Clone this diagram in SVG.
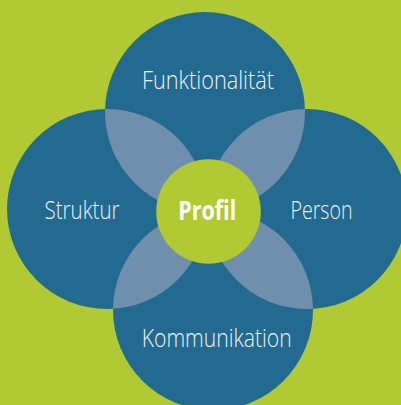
<svg xmlns="http://www.w3.org/2000/svg" width="401" height="405" viewBox="0 0 401 405">
  <style>
    .c { fill: #226a8f; }
    .lens { fill: #6f8fac; }
    .lbl { font-family: "Open Sans", "Liberation Sans", sans-serif; font-size: 26px; font-weight: 300; fill: #eef3f7; text-anchor: middle; }
    .ctr { font-family: "Open Sans", "Liberation Sans", sans-serif; font-size: 26px; font-weight: bold; fill: #ffffff; text-anchor: middle; }
  </style>
  <defs>
    <clipPath id="clipTop"><circle cx="205" cy="112" r="100"/></clipPath>
    <clipPath id="clipBottom"><circle cx="213" cy="310" r="100"/></clipPath>
  </defs>
  <rect width="401" height="405" fill="#b1ca33"/>

  <g id="node-funktionalitaet">
    <circle class="c" cx="205" cy="112" r="100"/>
  </g>
  <g id="node-struktur">
    <circle class="c" cx="107" cy="209" r="100"/>
  </g>
  <g id="node-person">
    <circle class="c" cx="307" cy="209" r="100"/>
  </g>
  <g id="node-kommunikation">
    <circle class="c" cx="213" cy="310" r="100"/>
  </g>

  <g id="overlaps">
    <circle class="lens" cx="107" cy="209" r="100" clip-path="url(#clipTop)"/>
    <circle class="lens" cx="307" cy="209" r="100" clip-path="url(#clipTop)"/>
    <circle class="lens" cx="107" cy="209" r="100" clip-path="url(#clipBottom)"/>
    <circle class="lens" cx="307" cy="209" r="100" clip-path="url(#clipBottom)"/>
  </g>

  <g id="labels">
    <text class="lbl" x="208" y="89" textLength="132" lengthAdjust="spacingAndGlyphs">Funktionalität</text>
    <text class="lbl" x="82" y="219" textLength="75" lengthAdjust="spacingAndGlyphs">Struktur</text>
    <text class="lbl" x="321.5" y="219" textLength="62" lengthAdjust="spacingAndGlyphs">Person</text>
    <text class="lbl" x="216.7" y="347" textLength="150" lengthAdjust="spacingAndGlyphs">Kommunikation</text>
  </g>

  <g id="node-profil">
    <circle cx="208.5" cy="211.5" r="52.3" fill="#b1ca33"/>
    <text class="ctr" x="207.2" y="220" textLength="58" lengthAdjust="spacingAndGlyphs">Profil</text>
  </g>

  <g id="connectors"/>
</svg>
